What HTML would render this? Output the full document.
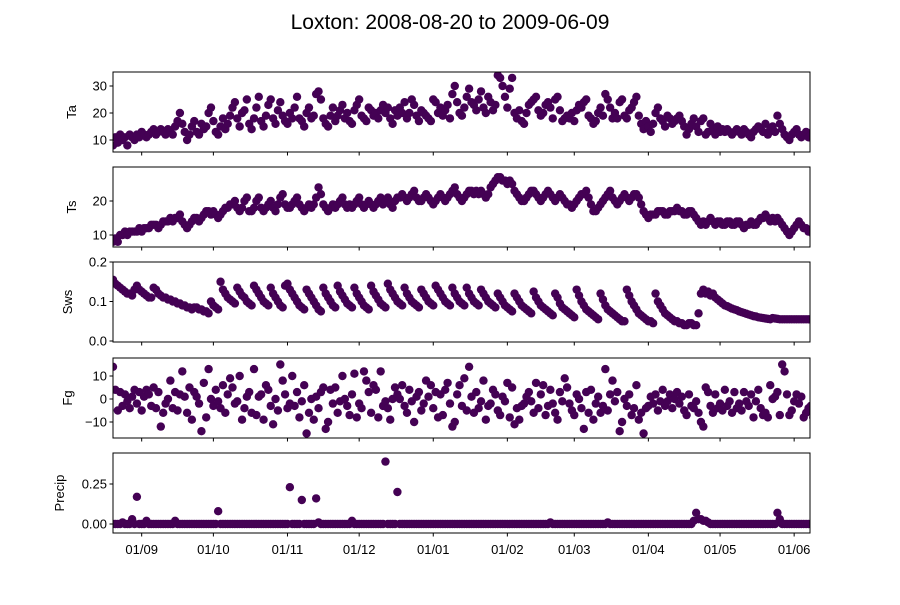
<!DOCTYPE html>
<html><head><meta charset="utf-8"><style>
body{margin:0;background:#fff}
svg text{font-family:"Liberation Sans","DejaVu Sans",sans-serif;fill:#000}
</style></head><body>
<svg id="chart" width="900" height="600" xmlns="http://www.w3.org/2000/svg">
<text x="450" y="29" font-size="21" text-anchor="middle">Loxton: 2008-08-20 to 2009-06-09</text>
</svg>
<script>
const monthTickDays=[12,42,73,103,134,165,193,224,254,285];
const monthTickLabels=["01/09","01/10","01/11","01/12","01/01","01/02","01/03","01/04","01/05","01/06"];
const taValues=[8,11,9,12,10,11,8,12,11,10,12,11,13,12,11,12,13,14,12,13,14,13,12,14,13,12,15,17,20,16,13,10,12,15,17,13,12,16,14,15,20,22,17,13,12,15,18,14,16,19,22,24,18,15,20,21,25,16,14,18,22,26,17,15,19,23,25,18,16,21,24,19,17,16,20,18,22,26,18,17,15,20,22,18,19,27,28,25,18,16,15,19,22,17,19,21,23,18,20,17,16,21,23,25,19,18,17,22,21,19,20,18,21,23,20,22,18,16,21,19,22,20,24,18,20,25,23,19,17,21,20,19,18,17,25,24,20,22,19,21,23,18,27,30,24,20,19,22,26,29,24,23,21,25,28,22,20,26,24,21,23,34,33,30,26,22,29,33,20,18,21,17,16,20,23,24,25,26,21,19,20,23,24,22,18,25,26,21,17,18,19,18,20,17,21,23,22,24,25,19,18,16,17,20,22,19,27,25,22,18,20,18,24,25,19,18,21,22,24,26,19,16,14,17,15,13,16,20,22,18,17,15,19,18,16,17,18,19,17,15,12,14,16,18,15,13,17,18,12,13,16,14,12,15,13,14,13,14,13,12,13,14,13,12,14,13,12,11,13,14,15,14,13,16,12,14,15,13,19,16,14,12,11,10,12,13,14,12,11,12,13,11,12,11];
const tsValues=[8,9,8,10,10,11,10,11,11,11,11,12,11,12,12,12,13,13,13,12,13,14,14,14,15,14,15,15,16,14,13,12,13,14,15,15,14,15,16,17,17,16,17,16,15,16,17,18,18,19,19,20,18,17,18,20,21,17,17,18,20,21,18,17,18,19,20,18,17,19,21,22,19,18,18,19,20,21,19,18,17,18,19,18,19,21,24,22,19,18,17,18,19,18,19,20,21,19,18,19,18,19,20,21,19,18,19,20,19,18,19,20,21,19,20,21,19,18,20,21,21,22,21,20,21,22,23,21,20,20,21,22,21,20,19,20,21,22,21,20,21,22,23,24,22,21,20,21,22,23,23,22,23,22,23,22,21,22,24,25,26,27,27,26,26,25,26,25,23,22,21,20,20,21,22,23,23,22,21,20,21,22,23,22,21,20,21,22,21,20,19,19,18,19,20,21,22,22,23,21,19,17,17,18,19,20,21,22,23,21,20,19,20,21,22,21,20,21,22,22,21,19,17,16,15,16,16,16,17,17,17,16,16,17,17,17,18,17,17,16,16,17,17,16,15,14,13,14,13,14,15,14,13,14,14,13,13,14,14,13,13,14,14,13,12,13,13,14,13,13,14,15,15,16,15,14,15,14,15,14,13,12,11,10,11,12,13,14,13,12,12,11,11,10];
const swsValues=[.155,.145,.14,.135,.13,.125,.12,.12,.115,.13,.14,.13,.125,.12,.115,.11,.11,.135,.13,.12,.115,.11,.11,.105,.105,.1,.1,.095,.095,.09,.09,.085,.085,.08,.085,.085,.08,.08,.075,.075,.07,.1,.09,.085,.08,.15,.13,.12,.11,.105,.1,.095,.135,.125,.115,.11,.1,.095,.09,.14,.13,.12,.11,.1,.095,.09,.135,.12,.11,.1,.09,.085,.14,.145,.13,.12,.11,.1,.09,.085,.08,.13,.12,.11,.1,.09,.08,.075,.135,.12,.11,.1,.09,.085,.14,.125,.115,.105,.095,.09,.085,.135,.12,.11,.1,.09,.085,.08,.14,.125,.115,.105,.095,.09,.085,.145,.13,.12,.11,.1,.095,.09,.135,.12,.11,.1,.095,.09,.085,.13,.12,.11,.1,.095,.09,.14,.13,.12,.11,.1,.095,.09,.135,.12,.11,.1,.095,.09,.135,.12,.11,.1,.095,.09,.13,.12,.11,.1,.095,.09,.085,.12,.11,.1,.09,.085,.08,.075,.12,.11,.1,.09,.085,.08,.075,.07,.125,.11,.1,.09,.085,.08,.075,.07,.065,.12,.11,.095,.085,.08,.075,.07,.065,.06,.13,.115,.1,.09,.08,.075,.07,.065,.06,.055,.12,.105,.09,.08,.075,.07,.065,.06,.055,.05,.05,.13,.115,.1,.09,.08,.07,.065,.06,.055,.05,.05,.045,.12,.1,.09,.08,.07,.065,.06,.055,.05,.05,.045,.045,.04,.04,.045,.045,.04,.04,.07,.12,.13,.12,.125,.115,.12,.11,.105,.1,.095,.09,.088,.085,.082,.08,.078,.075,.073,.071,.069,.067,.065,.063,.062,.06,.059,.058,.057,.056,.055,.058,.057,.056,.055,.055,.055,.055,.055,.055,.055,.055,.055,.055,.055,.055,.055,.055,.055];
const fgValues=[14,4,-5,3,-3,2,-1,-4,1,4,-2,3,-5,1,4,2,-3,5,-4,3,-12,-6,-2,0,8,-4,3,-5,2,12,1,-6,5,-9,3,1,-2,-14,7,-8,13,0,-3,4,-1,-4,6,-6,2,9,5,-2,-1,10,-9,-4,1,3,-6,13,-7,1,2,-9,6,4,-3,-11,0,-5,15,8,2,-4,-2,10,-3,3,-8,-1,6,-15,-6,0,-9,1,-4,3,5,-13,-10,4,-2,5,-6,-1,10,0,-3,-7,2,11,-8,-2,-4,12,8,3,-6,6,4,-8,12,-3,-1,-4,-9,0,5,2,0,6,-3,-6,4,-1,-10,1,3,-5,-2,8,1,6,-4,3,-8,2,-7,4,7,-2,-12,-10,2,6,-3,9,-5,14,1,-6,3,-4,-1,8,-9,-3,-2,4,2,-5,-7,1,-1,7,-8,5,-11,-4,-9,-3,-2,1,3,-1,-6,7,-4,2,6,-7,-3,4,-2,-6,-9,3,-1,9,5,-2,-5,-7,2,0,-4,-13,3,-6,4,-9,-2,1,-6,-3,13,-5,2,8,-1,3,-14,-10,0,-3,2,-7,-4,6,-9,-6,-15,-4,-3,1,-2,2,-5,-1,4,-3,-1,2,-4,0,3,-2,1,-5,-7,2,-3,-4,-1,-6,-10,-12,5,3,-3,-6,2,-4,-2,-5,4,-3,-1,-6,3,-4,-2,-5,3,-1,-3,2,-8,-1,4,-4,-7,-6,-8,6,0,1,3,-7,15,12,2,-7,-5,-1,2,-2,1,-8,-6,-4,-3,-8];
const precipDays=[4,8,10,14,26,44,74,79,85,86,100,114,119,183,207,243,244,245,246,247,248,249,278,279];
const precipAmounts=[0.01,0.03,0.17,0.02,0.02,0.08,0.23,0.15,0.16,0.01,0.02,0.39,0.2,0.01,0.01,0.02,0.07,0.03,0.03,0.02,0.02,0.01,0.07,0.03];
const precipValues=new Array(294).fill(0);
precipDays.forEach((d,i)=>{precipValues[d]=precipAmounts[i];});
const taTicks=[10,20,30], tsTicks=[10,20], swsTicks=[0,0.1,0.2], fgTicks=[-10,0,10], precipTicks=[0,0.25];
const taTickLabels=["10","20","30"], tsTickLabels=["10","20"], swsTickLabels=["0.0","0.1","0.2"], fgTickLabels=["−10","0","10"], precipTickLabels=["0.00","0.25"];

const NS="http://www.w3.org/2000/svg";
const svg=document.getElementById('chart');
const X0=113,X1=810,DAYPX=2.39;
function xScale(d){return X0+d*DAYPX;}
function mk(tag,attrs,parent){const e=document.createElementNS(NS,tag);for(const k in attrs)e.setAttribute(k,attrs[k]);(parent||svg).appendChild(e);return e;}

const panels=[
 {key:'ta',label:'Ta',vals:taValues,ticks:taTicks,tl:taTickLabels,top:72,bot:152,v0:10,y0:140,v1:30,y1:86},
 {key:'ts',label:'Ts',vals:tsValues,ticks:tsTicks,tl:tsTickLabels,top:167,bot:247,v0:10,y0:235,v1:20,y1:201},
 {key:'sws',label:'Sws',vals:swsValues,ticks:swsTicks,tl:swsTickLabels,top:262,bot:342,v0:0,y0:341,v1:0.2,y1:262},
 {key:'fg',label:'Fg',vals:fgValues,ticks:fgTicks,tl:fgTickLabels,top:358,bot:438,v0:-10,y0:422,v1:10,y1:376},
 {key:'precip',label:'Precip',vals:precipValues,ticks:precipTicks,tl:precipTickLabels,top:453,bot:533,v0:0,y0:524,v1:0.25,y1:484}
];
panels.forEach((p,pi)=>{
 const yScale=v=>p.y0+(v-p.v0)*(p.y1-p.y0)/(p.v1-p.v0);
 const g=mk('g',{});
 
 
 const cp=mk('clipPath',{id:'clip'+pi},g);
 mk('rect',{x:X0,y:p.top,width:X1-X0,height:p.bot-p.top},cp);
 const pts=mk('g',{'clip-path':'url(#clip'+pi+')'},g);
 
 
 p.vals.forEach((v,d)=>{
  const c=mk('circle',{cx:xScale(d).toFixed(2),cy:yScale(v).toFixed(2),r:4.2,fill:'#440154'},pts);
  
  
 });
 const fr=mk('rect',{x:X0,y:p.top,width:X1-X0,height:p.bot-p.top,fill:'none',stroke:'#000','stroke-width':1},g);
 
 
 p.ticks.forEach((t,i)=>{
  const y=yScale(t);
  mk('line',{x1:X0-3.5,x2:X0,y1:y,y2:y,stroke:'#000'},g);
  const tx=mk('text',{x:X0-6,y:y+4.5,'font-size':13,'text-anchor':'end'},g);
  tx.textContent=p.tl[i];
  
  
 });
 monthTickDays.forEach((d,i)=>{
  const x=xScale(d);
  mk('line',{x1:x,x2:x,y1:p.bot,y2:p.bot+3.5,stroke:'#000'},g);
  if(pi===panels.length-1){
   const tx=mk('text',{x:x,y:p.bot+21,'font-size':13,'text-anchor':'middle'},g);
   tx.textContent=monthTickLabels[i];
   
   
  }
 });
 const yc=(p.top+p.bot)/2;
 const lx=p.key==='precip'?64:(p.key==='ta'||p.key==='ts'?76:72);
 const yl=mk('text',{x:lx,y:yc,'font-size':13,'text-anchor':'middle',transform:'rotate(-90 '+lx+' '+yc+')'},g);
 yl.textContent=p.label;
 
 
});
</script>
</body></html>
